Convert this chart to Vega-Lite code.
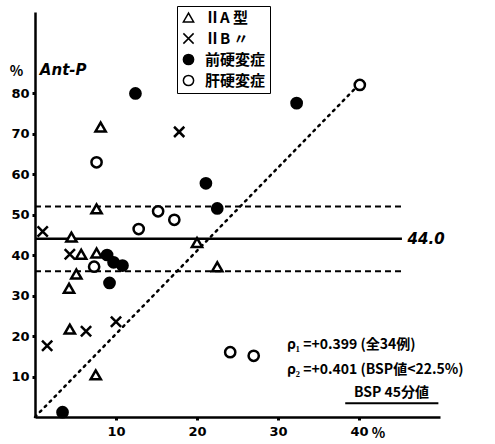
{
  "$schema": "https://vega.github.io/schema/vega-lite/v6.json",
  "width": 405,
  "height": 405,
  "autosize": {"type": "none"},
  "padding": {"left": 35, "top": 12, "right": 55, "bottom": 27},
  "background": "white",
  "config": {"view": {"stroke": null}, "font": "DejaVu Sans"},
  "datasets": {
    "pts": [
      {"x": 8.1, "y": 71.6, "type": "ⅡA 型"},
      {"x": 7.6, "y": 51.4, "type": "ⅡA 型"},
      {"x": 4.5, "y": 44.4, "type": "ⅡA 型"},
      {"x": 20.0, "y": 43.1, "type": "ⅡA 型"},
      {"x": 5.7, "y": 40.2, "type": "ⅡA 型"},
      {"x": 7.6, "y": 40.5, "type": "ⅡA 型"},
      {"x": 22.5, "y": 37.1, "type": "ⅡA 型"},
      {"x": 5.1, "y": 35.3, "type": "ⅡA 型"},
      {"x": 4.2, "y": 31.8, "type": "ⅡA 型"},
      {"x": 4.3, "y": 21.7, "type": "ⅡA 型"},
      {"x": 7.5, "y": 10.4, "type": "ⅡA 型"},
      {"x": 17.8, "y": 70.4, "type": "ⅡB 〃"},
      {"x": 0.95, "y": 45.8, "type": "ⅡB 〃"},
      {"x": 4.3, "y": 40.2, "type": "ⅡB 〃"},
      {"x": 10.0, "y": 23.5, "type": "ⅡB 〃"},
      {"x": 6.3, "y": 21.2, "type": "ⅡB 〃"},
      {"x": 1.5, "y": 17.6, "type": "ⅡB 〃"},
      {"x": 12.4, "y": 79.9, "type": "前硬変症"},
      {"x": 21.1, "y": 57.7, "type": "前硬変症"},
      {"x": 32.3, "y": 77.5, "type": "前硬変症"},
      {"x": 22.5, "y": 51.5, "type": "前硬変症"},
      {"x": 8.9, "y": 40.0, "type": "前硬変症"},
      {"x": 9.7, "y": 38.2, "type": "前硬変症"},
      {"x": 10.8, "y": 37.4, "type": "前硬変症"},
      {"x": 9.2, "y": 33.1, "type": "前硬変症"},
      {"x": 3.4, "y": 1.2, "type": "前硬変症"},
      {"x": 7.6, "y": 62.9, "type": "肝硬変症"},
      {"x": 40.1, "y": 82.0, "type": "肝硬変症"},
      {"x": 15.2, "y": 50.8, "type": "肝硬変症"},
      {"x": 17.2, "y": 48.7, "type": "肝硬変症"},
      {"x": 12.8, "y": 46.4, "type": "肝硬変症"},
      {"x": 7.3, "y": 37.1, "type": "肝硬変症"},
      {"x": 24.1, "y": 16.0, "type": "肝硬変症"},
      {"x": 27.0, "y": 15.1, "type": "肝硬変症"}
    ],
    "diag": [{"x": 0, "y": 0}, {"x": 40.2, "y": 82.5}],
    "limits": [{"y": 52}, {"y": 36}],
    "rho": [
      {"x": 31.1, "y": 17.8, "label": "ρ₁ =+0.399 (全34例)"},
      {"x": 31.1, "y": 11.6, "label": "ρ₂ =+0.401 (BSP値<22.5%)"}
    ]
  },
  "layer": [
    {
      "data": {"name": "limits"},
      "mark": {"type": "rule", "stroke": "black", "strokeWidth": 2, "strokeDash": [6, 4]},
      "encoding": {
        "y": {"field": "y", "type": "quantitative", "scale": {"domain": [0, 100]}, "title": null},
        "x": {"datum": 0, "type": "quantitative", "scale": {"domain": [0, 50]}},
        "x2": {"datum": 45.3}
      }
    },
    {
      "data": {"values": [{}]},
      "mark": {"type": "rule", "stroke": "black", "strokeWidth": 2.5},
      "encoding": {
        "y": {"datum": 44, "type": "quantitative", "scale": {"domain": [0, 100]}},
        "x": {"datum": 0, "type": "quantitative", "scale": {"domain": [0, 50]}},
        "x2": {"datum": 45.3}
      }
    },
    {
      "data": {"values": [{}]},
      "mark": {"type": "rule", "stroke": "black", "strokeWidth": 2},
      "encoding": {
        "y": {"datum": 3.4, "type": "quantitative", "scale": {"domain": [0, 100]}},
        "x": {"datum": 38.3, "type": "quantitative", "scale": {"domain": [0, 50]}},
        "x2": {"datum": 49.8}
      }
    },
    {
      "data": {"name": "diag"},
      "mark": {"type": "line", "stroke": "black", "strokeWidth": 2.5, "strokeDash": [2, 5], "strokeCap": "round"},
      "encoding": {
        "x": {"field": "x", "type": "quantitative", "scale": {"domain": [0, 50]}, "title": null},
        "y": {"field": "y", "type": "quantitative", "scale": {"domain": [0, 100]}, "title": null}
      }
    },
    {
      "data": {"name": "pts"},
      "mark": {"type": "point", "filled": true, "stroke": "black", "strokeWidth": 2.5, "opacity": 1, "size": 105},
      "encoding": {
        "x": {
          "field": "x", "type": "quantitative", "scale": {"domain": [0, 50]}, "title": null,
          "axis": {"values": [10, 20, 30, 40], "grid": false, "domainColor": "black", "domainWidth": 2.5, "tickColor": "black", "tickWidth": 3, "tickSize": 3, "labelFontSize": 13, "labelFontWeight": "bold", "labelColor": "black", "labelPadding": 5}
        },
        "y": {
          "field": "y", "type": "quantitative", "scale": {"domain": [0, 100]}, "title": null,
          "axis": {"values": [10, 20, 30, 40, 50, 60, 70, 80], "grid": false, "domainColor": "black", "domainWidth": 2.5, "tickColor": "black", "tickWidth": 3, "tickSize": 3, "labelFontSize": 13, "labelFontWeight": "bold", "labelColor": "black", "labelPadding": 3}
        },
        "shape": {
          "field": "type", "type": "nominal",
          "scale": {"domain": ["ⅡA 型", "ⅡB 〃", "前硬変症", "肝硬変症"], "range": ["triangle-up", "M-1,-1L1,1M-1,1L1,-1", "circle", "circle"]},
          "legend": {
            "orient": "none", "legendX": 142, "legendY": -6, "title": null, "padding": 4, "strokeColor": "black",
            "labelFont": "Noto Sans CJK JP", "labelFontSize": 15, "labelFontWeight": "bold", "labelColor": "black",
            "symbolSize": 105, "rowPadding": 4, "labelOffset": 9,
            "encode": {"symbols": {"update": {"fill": {"scale": "fill", "field": "value"}, "stroke": {"value": "black"}, "strokeWidth": {"value": 2.5}, "opacity": {"value": 1}}}}
          }
        },
        "fill": {
          "field": "type", "type": "nominal",
          "scale": {"domain": ["ⅡA 型", "ⅡB 〃", "前硬変症", "肝硬変症"], "range": ["white", "white", "black", "white"]},
          "legend": null
        }
      }
    },
    {
      "data": {"name": "rho"},
      "mark": {"type": "text", "align": "left", "baseline": "middle", "font": "Noto Sans CJK JP", "fontSize": 14, "fontWeight": "bold", "color": "black"},
      "encoding": {
        "x": {"field": "x", "type": "quantitative", "scale": {"domain": [0, 50]}},
        "y": {"field": "y", "type": "quantitative", "scale": {"domain": [0, 100]}},
        "text": {"field": "label"}
      }
    },
    {
      "data": {"values": [{"x": 46, "y": 44, "label": "44.0"}, {"x": 0.6, "y": 85.7, "label": "Ant-P"}]},
      "mark": {"type": "text", "align": "left", "baseline": "middle", "fontSize": 15, "fontWeight": "bold", "fontStyle": "italic", "color": "black"},
      "encoding": {
        "x": {"field": "x", "type": "quantitative", "scale": {"domain": [0, 50]}},
        "y": {"field": "y", "type": "quantitative", "scale": {"domain": [0, 100]}},
        "text": {"field": "label"}
      }
    },
    {
      "data": {"values": [{"x": -2.3, "y": 85.3, "label": "%"}, {"x": 42.4, "y": -4.2, "label": "%"}, {"x": 44, "y": 6.0, "label": "BSP 45分値"}]},
      "mark": {"type": "text", "align": "center", "baseline": "middle", "font": "Noto Sans CJK JP", "fontSize": 14, "fontWeight": "bold", "color": "black"},
      "encoding": {
        "x": {"field": "x", "type": "quantitative", "scale": {"domain": [0, 50]}},
        "y": {"field": "y", "type": "quantitative", "scale": {"domain": [0, 100]}},
        "text": {"field": "label"}
      }
    }
  ]
}
